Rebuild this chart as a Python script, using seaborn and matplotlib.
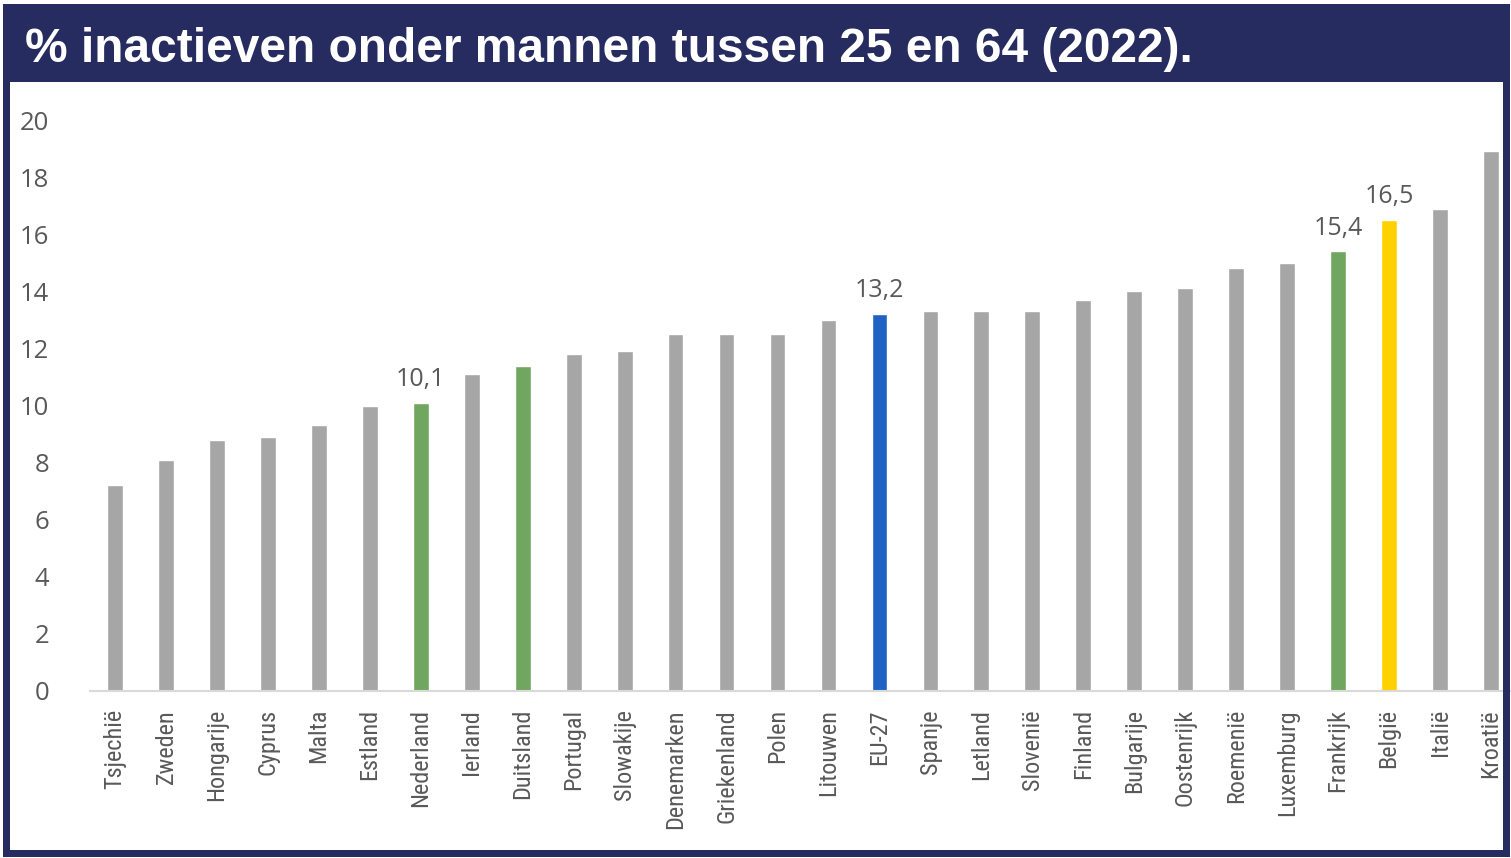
import matplotlib
matplotlib.use("Agg")
import matplotlib.pyplot as plt
from matplotlib import font_manager
from matplotlib.patches import Rectangle
import seaborn as sns
import pandas as pd

# ---- data ----
countries = ["Tsjechië", "Zweden", "Hongarije", "Cyprus", "Malta", "Estland",
             "Nederland", "Ierland", "Duitsland", "Portugal", "Slowakije",
             "Denemarken", "Griekenland", "Polen", "Litouwen", "EU-27", "Spanje",
             "Letland", "Slovenië", "Finland", "Bulgarije", "Oostenrijk",
             "Roemenië", "Luxemburg", "Frankrijk", "België", "Italië", "Kroatië"]
values = [7.2, 8.1, 8.8, 8.9, 9.3, 10.0, 10.1, 11.1, 11.4, 11.8, 11.9,
          12.5, 12.5, 12.5, 13.0, 13.2, 13.3, 13.3, 13.3, 13.7, 14.0, 14.1,
          14.8, 15.0, 15.4, 16.5, 16.9, 18.9]
highlight = {"Nederland": "#70A65F", "Duitsland": "#70A65F", "Frankrijk": "#70A65F",
             "EU-27": "#1F62C4", "België": "#FFD100"}
labelled = ["Nederland", "EU-27", "Frankrijk", "België"]
yticks = [0, 2, 4, 6, 8, 10, 12, 14, 16, 18, 20]
title = "% inactieven onder mannen tussen 25 en 64 (2022)."

GREY = "#A6A6A6"
NAVY = "#262B60"
TXT = "#595959"

df = pd.DataFrame({"land": countries, "waarde": values})
palette = {c: highlight.get(c, GREY) for c in countries}

sns.set_theme(style="white")
avail = {f.name for f in font_manager.fontManager.ttflist}
xfont = None
for cand in ["Liberation Sans Narrow", "Roboto Condensed", "Roboto"]:
    if cand in avail:
        xfont = cand
        break
narrow = xfont in ("Liberation Sans Narrow", "Roboto Condensed")
plt.rcParams["font.family"] = ["Open Sans", "DejaVu Sans"]

W, H = 1511, 858
fig = plt.figure(figsize=(W / 100, H / 100), dpi=100)
fig.patch.set_facecolor("white")

def fx(px):
    return px / W

def fy(py):
    return 1 - py / H

ax_left, ax_right, ax_top, ax_bot = 89.5, 1516.5, 120, 691
ax = fig.add_axes([fx(ax_left), fy(ax_bot), fx(ax_right - ax_left), (ax_bot - ax_top) / H])

sns.barplot(data=df, x="land", y="waarde", hue="land", palette=palette,
            width=0.31, legend=False, ax=ax, saturation=1)

ax.set_xlim(-0.5, len(countries) - 0.5)
ax.set_ylim(0, 20)
ax.set_yticks(yticks)
ax.set_yticklabels([str(t) for t in yticks])
ax.set_xlabel("")
ax.set_ylabel("")
for s in ["top", "right", "left"]:
    ax.spines[s].set_visible(False)
ax.spines["bottom"].set_color("#D9D9D9")
ax.spines["bottom"].set_linewidth(1.5)
ax.tick_params(axis="y", length=0, pad=29, labelsize=18.5, labelcolor=TXT)
ax.tick_params(axis="x", length=0, pad=13, labelcolor=TXT)
for lab in ax.get_xticklabels():
    lab.set_rotation(90)
    lab.set_fontsize(17.5 if narrow else 16.5)
    if xfont:
        lab.set_family(xfont)
ax.set_facecolor("white")

for c in labelled:
    i = countries.index(c)
    v = values[i]
    ax.annotate(f"{v:.1f}".replace(".", ","), xy=(i, v), xytext=(0, 12),
                textcoords="offset points", ha="center", va="baseline",
                fontsize=18, color=TXT)

# ---- navy frame & title band ----
frame = [
    (3, 4, 1510, 82),     # top band
    (3, 4, 10, 857),      # left
    (1503, 4, 1510, 857), # right
    (3, 850, 1510, 857),  # bottom
]
for x0, y0, x1, y1 in frame:
    fig.patches.append(Rectangle((fx(x0), fy(y1)), fx(x1 - x0), (y1 - y0) / H,
                                 transform=fig.transFigure, facecolor=NAVY,
                                 edgecolor="none", zorder=10))

fig.text(fx(25), fy(50), title, ha="left", va="center", color="white",
         fontsize=34.5, fontweight="bold", family=["Liberation Sans", "DejaVu Sans"],
         zorder=11)

fig.savefig("out.png", dpi=100)
